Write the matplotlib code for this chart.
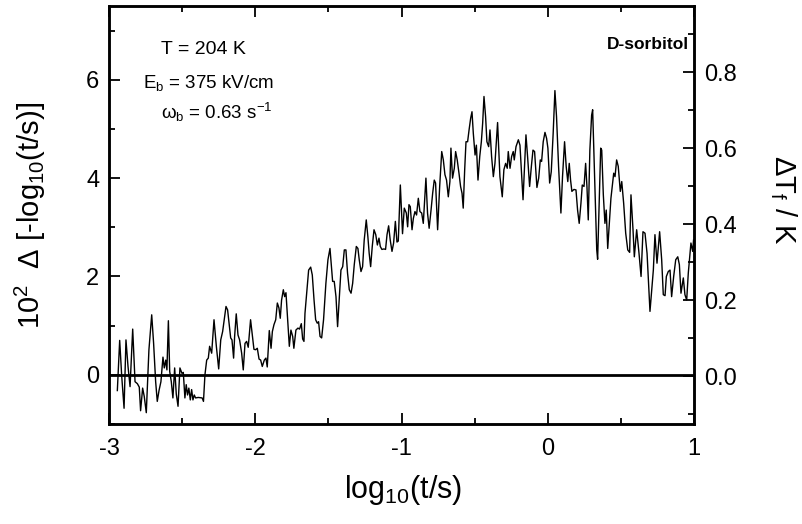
import matplotlib
matplotlib.use("Agg")
import matplotlib.pyplot as plt
from matplotlib.ticker import MultipleLocator, FormatStrFormatter

plt.rcParams['font.family'] = ['Liberation Sans', 'DejaVu Sans']
plt.rcParams['mathtext.fontset'] = 'custom'
plt.rcParams['mathtext.rm'] = 'Liberation Sans'
plt.rcParams['mathtext.it'] = 'Liberation Sans'
plt.rcParams['axes.unicode_minus'] = False

# trace: log10(t/s) vs 10^2 * delta[-log10(t/s)]
log_t = [
    -2.943, -2.927, -2.913, -2.897, -2.884, -2.870, -2.856, -2.838, -2.822, -2.806,
    -2.793, -2.784, -2.770, -2.759, -2.745, -2.727, -2.708, -2.695, -2.681, -2.670,
    -2.658, -2.645, -2.631, -2.622, -2.612, -2.604, -2.594, -2.585, -2.574, -2.563,
    -2.551, -2.540, -2.528, -2.515, -2.501, -2.492, -2.481, -2.472, -2.463, -2.454,
    -2.444, -2.435, -2.426, -2.417, -2.408, -2.390, -2.363, -2.354,
    -2.344, -2.332, -2.321, -2.312, -2.298, -2.282, -2.266, -2.250, -2.236, -2.223,
    -2.212, -2.200, -2.189, -2.178, -2.168, -2.159, -2.148, -2.141, -2.130, -2.118,
    -2.107, -2.093, -2.082, -2.070, -2.059, -2.048, -2.032, -2.020, -2.009, -1.998,
    -1.986, -1.974, -1.963, -1.952, -1.938, -1.927, -1.918, -1.904, -1.892, -1.883,
    -1.872, -1.860, -1.849, -1.838, -1.829, -1.820, -1.808, -1.799, -1.790, -1.779,
    -1.767, -1.756, -1.744, -1.736, -1.722, -1.708, -1.697,
    -1.685, -1.676, -1.667, -1.660, -1.648, -1.635, -1.621, -1.610, -1.598, -1.587,
    -1.576, -1.567, -1.557, -1.546, -1.533, -1.517, -1.503, -1.489, -1.478, -1.471,
    -1.460, -1.448, -1.437, -1.425, -1.414, -1.402, -1.391, -1.380, -1.369, -1.357,
    -1.345, -1.334, -1.323, -1.309, -1.298, -1.289, -1.277, -1.266, -1.255, -1.241,
    -1.230, -1.221, -1.211, -1.200, -1.188, -1.176, -1.165, -1.154, -1.145, -1.134,
    -1.120, -1.109, -1.099, -1.088, -1.077, -1.065, -1.054, -1.042, -1.031, -1.022,
    -1.008,
    -0.993, -0.981, -0.967, -0.958, -0.949, -0.940, -0.928, -0.919, -0.908, -0.897,
    -0.885, -0.874, -0.862, -0.851, -0.833, -0.822, -0.811, -0.798, -0.787, -0.776,
    -0.767, -0.753, -0.739, -0.725, -0.714, -0.703, -0.692, -0.680, -0.669, -0.662,
    -0.651, -0.639, -0.630, -0.619, -0.607, -0.596, -0.586, -0.578, -0.568, -0.559,
    -0.548, -0.538, -0.527, -0.518, -0.509, -0.497, -0.488, -0.477, -0.465, -0.454,
    -0.445, -0.436, -0.425, -0.416, -0.404, -0.395,
    -0.384, -0.372, -0.361, -0.343, -0.327, -0.311, -0.300, -0.288, -0.277, -0.270,
    -0.258, -0.247, -0.236, -0.229, -0.217, -0.201, -0.190, -0.178, -0.169, -0.158,
    -0.149, -0.137, -0.124, -0.112, -0.101, -0.090, -0.074, -0.062, -0.051, -0.042,
    -0.031, -0.019, -0.008, 0.001, 0.013, 0.024, 0.037, 0.049, 0.060, 0.074,
    0.090, 0.101, 0.115, 0.126, 0.137, 0.147, 0.156, 0.165, 0.179, 0.193,
    0.204, 0.215, 0.227, 0.236, 0.248, 0.259, 0.268, 0.277, 0.288,
    0.300, 0.307, 0.335, 0.341, 0.362, 0.369, 0.380, 0.391, 0.400, 0.410,
    0.432, 0.451, 0.460, 0.471, 0.482, 0.496, 0.506, 0.519, 0.533, 0.547,
    0.560, 0.569, 0.583, 0.592, 0.608, 0.624, 0.638, 0.651, 0.665, 0.679,
    0.699, 0.722, 0.733, 0.747, 0.765, 0.779, 0.790, 0.802, 0.811, 0.824,
    0.836, 0.847, 0.861, 0.875, 0.889, 0.900, 0.911, 0.927, 0.938, 0.950,
    0.961, 0.979, 0.991, 0.997,
]
delta = [
    -0.32, 0.70, -0.03, -0.68, 0.71, 0.17, -0.24, 0.93, -0.14, -0.18,
    -0.25, -0.73, -0.27, -0.44, -0.77, 0.51, 1.22, 0.64, -0.14, -0.54,
    -0.32, -0.14, 0.36, 0.14, 0.30, 0.10, 1.10, 0.07, -0.14, -0.47,
    0.14, -0.39, -0.64, 0.14, 0.03, 0.05, -0.47, -0.20, -0.41, -0.27,
    -0.51, -0.30, -0.51, -0.41, -0.47, -0.46, -0.47, -0.54,
    0.00, 0.30, 0.34, 0.58, 0.44, 1.12, 0.58, 0.12, 0.71, 0.88,
    1.12, 1.39, 1.32, 1.02, 0.75, 0.71, 0.34, 0.78, 1.24, 0.81,
    0.71, 0.44, 0.10, 0.64, 0.68, 0.56, 1.12, 0.81, 0.52, 0.51,
    0.54, 0.32, 0.30, 0.17, 0.30, 0.34, 0.16, 0.90, 0.54, 0.88,
    1.02, 1.12, 1.46, 1.36, 1.15, 1.52, 1.73, 1.59, 1.67, 1.15,
    0.58, 0.91, 0.78, 0.54, 0.91, 0.95, 0.93,
    1.04, 0.73, 0.68, 1.25, 1.66, 2.13, 2.19, 2.03, 1.52, 1.12,
    1.05, 1.08, 0.78, 0.75, 1.12, 1.86, 2.34, 2.57, 2.17, 1.90,
    1.90, 1.59, 0.98, 1.59, 2.13, 2.20, 2.54, 2.54, 2.07, 1.73,
    1.66, 1.86, 2.24, 2.61, 2.57, 2.34, 2.10, 2.20, 2.74, 3.15,
    2.81, 2.47, 2.20, 2.61, 2.95, 2.85, 2.64, 2.78, 2.61, 2.55,
    2.56, 2.55, 2.85, 3.03, 2.74, 2.51, 2.68, 3.12, 2.70, 2.72,
    3.86,
    2.87, 3.39, 3.29, 3.01, 3.46, 3.42, 2.95, 3.18, 3.32, 3.25,
    3.59, 3.32, 3.29, 3.08, 4.00, 3.29, 2.98, 3.35, 3.69, 3.96,
    3.90, 2.95, 3.83, 4.54, 4.37, 4.07, 3.96, 3.62, 3.93, 4.61,
    4.00, 4.20, 4.54, 4.37, 4.10, 3.83, 3.69, 3.39, 4.17, 4.74,
    4.74, 4.98, 5.22, 5.35, 4.91, 4.47, 4.67, 3.96, 4.44, 4.74,
    5.12, 5.66, 5.25, 4.74, 4.64, 4.98,
    4.44, 4.03, 4.30, 5.13, 4.03, 3.62, 4.17, 4.30, 4.20, 4.54,
    4.20, 4.44, 4.54, 4.37, 4.64, 4.78, 4.67, 4.03, 3.56, 4.30,
    4.88, 4.40, 3.83, 4.24, 4.57, 4.54, 3.81, 4.00, 4.37, 4.34,
    4.74, 4.93, 4.81, 4.61, 3.90, 4.13, 4.91, 5.78, 5.25, 4.24,
    3.29, 4.03, 4.74, 4.24, 3.93, 4.30, 3.96, 3.73, 3.77, 3.76,
    3.35, 3.08, 3.49, 3.86, 3.83, 4.30, 3.83, 3.15, 4.57,
    5.28, 5.39, 2.54, 2.35, 4.61, 4.57, 3.66, 3.08, 3.35, 2.57,
    3.59, 4.10, 4.03, 4.37, 4.24, 3.73, 3.93, 3.49, 2.88, 2.54,
    2.49, 3.66, 2.95, 2.40, 2.95, 2.47, 2.00, 2.91, 2.88, 2.47,
    1.29, 2.13, 2.85, 2.27, 2.91, 2.34, 1.63, 1.61, 2.00, 2.10,
    2.13, 1.59, 2.00, 2.34, 2.40, 2.24, 1.66, 1.97, 1.63, 1.52,
    2.07, 2.68, 2.51, 2.74,
]

x_ticks = [-3, -2, -1, 0, 1]
left_ticks = [0, 2, 4, 6]
right_ticks = [0.0, 0.2, 0.4, 0.6, 0.8]

fig = plt.figure(figsize=(8.02, 5.24), dpi=100)
ax = fig.add_axes([109/802, 1 - 424/524, 585/802, 418/524])
ax2 = ax.twinx()

ax.axhline(0, color='black', lw=2.0, zorder=2)
ax.plot(log_t, delta, color='black', lw=1.0, zorder=3)

ax.set_xlim(-3, 1)
ax.set_ylim(-1, 7.5)
ax2.set_ylim(-0.126, 0.974)

ax.set_xticks(x_ticks)
ax.xaxis.set_minor_locator(MultipleLocator(0.5))
ax.set_yticks(left_ticks)
ax.yaxis.set_minor_locator(MultipleLocator(1))
ax2.set_yticks(right_ticks)
ax2.yaxis.set_minor_locator(MultipleLocator(0.1))
ax2.yaxis.set_major_formatter(FormatStrFormatter('%.1f'))

ax.tick_params(axis='x', which='both', direction='in', top=True, labelsize=17, pad=10)
ax.tick_params(axis='y', which='both', direction='in', right=False, labelsize=17, pad=7)
ax2.tick_params(axis='y', which='both', direction='in', labelsize=17, pad=7)
for a in (ax, ax2):
    a.tick_params(which='major', length=8, width=1.3)
    a.tick_params(which='minor', length=4, width=1.3)
    for s in a.spines.values():
        s.set_linewidth(1.8)

fig.text(403/802, 1 - 490/524, r'log$_{10}$(t/s)', fontsize=22, ha='center', va='center')
fig.text(30/802, 1 - 215/524, r'10$^2$  $\Delta$ [-log$_{10}$(t/s)]', fontsize=21,
         rotation=90, ha='center', va='center')
fig.text(783/802, 1 - 200/524, r'$\Delta$T$_f$ / K', fontsize=21,
         rotation=-90, ha='center', va='center')

ax.text(0.161, 0.895, 'T = 204 K', transform=ax.transAxes, fontsize=14, ha='center', va='center')
ax.text(0.170, 0.815, r'E$_b$ = 375 kV/cm', transform=ax.transAxes, fontsize=13.5, ha='center', va='center')
ax.text(0.185, 0.745, r'$\omega_b$ = 0.63 s$^{-1}$', transform=ax.transAxes, fontsize=13.5, ha='center', va='center')
ax.text(0.921, 0.907, 'D-sorbitol', transform=ax.transAxes, fontsize=12.5, fontweight='bold',
        ha='center', va='center')

fig.savefig('out.png', dpi=100)
